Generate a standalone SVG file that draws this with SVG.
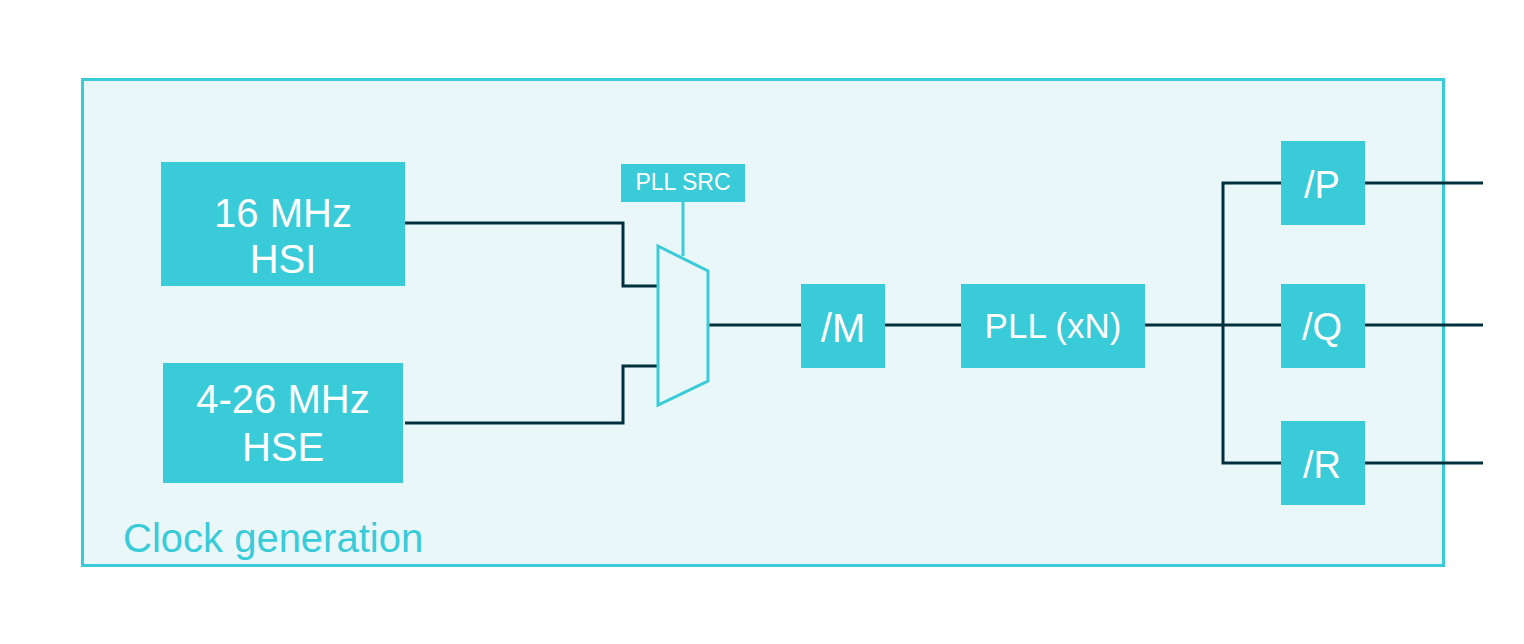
<svg xmlns="http://www.w3.org/2000/svg" width="1524" height="644" viewBox="0 0 1524 644">
<style>
.box{fill:#3acbd9}
.t{fill:#ffffff;font-family:"Liberation Sans",Arial,sans-serif;font-size:40px;text-anchor:middle}
.t38{fill:#ffffff;font-family:"Liberation Sans",Arial,sans-serif;font-size:38px;text-anchor:middle}
.t35{fill:#ffffff;font-family:"Liberation Sans",Arial,sans-serif;font-size:35px;text-anchor:middle}
.ts{fill:#ffffff;font-family:"Liberation Sans",Arial,sans-serif;font-size:23px;text-anchor:middle}
.w{fill:none;stroke:#00303e;stroke-width:3}
</style>
<rect width="1524" height="644" fill="#ffffff"/>
<g id="frame">
<rect x="82.5" y="79.5" width="1361" height="486" fill="#e9f7f9" stroke="#3acbd9" stroke-width="3"/>
<text x="123" y="552" fill="#3acbd9" font-family="'Liberation Sans',Arial,sans-serif" font-size="40">Clock generation</text>
</g>
<g id="connectors">
<polyline class="w" points="405,223 623,223 623,286 657,286"/>
<polyline class="w" points="405,423 623,423 623,366 657,366"/>
<line class="w" x1="708" y1="325" x2="801" y2="325"/>
<line class="w" x1="885" y1="325" x2="961" y2="325"/>
<line class="w" x1="1145" y1="325" x2="1281" y2="325"/>
<polyline class="w" points="1281,183 1223,183 1223,463 1281,463"/>
<line class="w" x1="1365" y1="183" x2="1483" y2="183"/>
<line class="w" x1="1365" y1="325" x2="1483" y2="325"/>
<line class="w" x1="1365" y1="463" x2="1483" y2="463"/>
<line x1="683" y1="202" x2="683" y2="256" stroke="#3acbd9" stroke-width="3"/>
</g>
<g id="hsi">
<rect class="box" x="161" y="162" width="244" height="124"/>
<text class="t" x="283" y="227">16 MHz</text>
<text class="t" x="283" y="273">HSI</text>
</g>
<g id="hse">
<rect class="box" x="163" y="363" width="240" height="120"/>
<text class="t" x="283" y="413">4-26 MHz</text>
<text class="t" x="283" y="461">HSE</text>
</g>
<g id="pllsrc">
<rect class="box" x="621" y="164" width="124" height="38"/>
<text class="ts" x="683" y="190">PLL SRC</text>
</g>
<g id="mux">
<polygon points="658,246 708,271 708,381 658,405" fill="#e9f7f9" stroke="#3acbd9" stroke-width="3"/>
</g>
<g id="divm">
<rect class="box" x="801" y="284" width="84" height="84"/>
<text class="t" x="843" y="342">/M</text>
</g>
<g id="pll">
<rect class="box" x="961" y="284" width="184" height="84"/>
<text class="t35" x="1053" y="338">PLL (xN)</text>
</g>
<g id="divp">
<rect class="box" x="1281" y="141" width="84" height="84"/>
<text class="t38" x="1322" y="198">/P</text>
</g>
<g id="divq">
<rect class="box" x="1281" y="284" width="84" height="84"/>
<text class="t38" x="1322" y="340">/Q</text>
</g>
<g id="divr">
<rect class="box" x="1281" y="421" width="84" height="84"/>
<text class="t38" x="1322" y="478">/R</text>
</g>
</svg>
